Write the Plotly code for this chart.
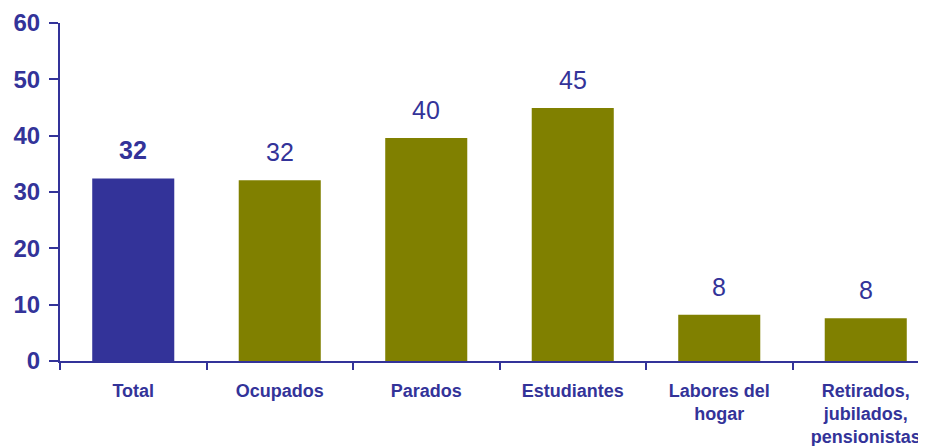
import plotly.graph_objects as go

categories = ["Total", "Ocupados", "Parados", "Estudiantes",
              "Labores del<br>hogar", "Retirados,<br>jubilados,<br>pensionistas"]
values = [32.4, 32.1, 39.6, 44.9, 8.2, 7.6]
y_ticks = [0, 10, 20, 30, 40, 50, 60]

navy = "#333399"
olive = "#808000"
font_family = "Arial, Liberation Sans, sans-serif"

bar_colors = [navy] + [olive] * (len(categories) - 1)

fig = go.Figure()
fig.add_trace(go.Bar(x=categories, y=values, marker_color=bar_colors,
                     marker_line_width=0, width=0.56, hoverinfo="x+y"))

# value labels above bars, first one bold
for i, (c, v) in enumerate(zip(categories, values)):
    txt = "%.0f" % v
    if i == 0:
        txt = "<b>" + txt + "</b>"
    fig.add_annotation(x=c, y=v, text=txt, showarrow=False,
                       yanchor="bottom", yshift=12,
                       font=dict(family=font_family, size=25, color=navy))

# page body has an 8px margin, so the figure is a bit smaller than the window
fig.update_layout(
    width=918, height=438,
    margin=dict(l=52, r=0, t=15, b=85),
    plot_bgcolor="white", paper_bgcolor="white",
    showlegend=False,
)
fig.update_xaxes(
    type="category", automargin=False,
    range=[-0.5, -0.5 + 866 / 146.5],
    showline=True, linecolor=navy, linewidth=2,
    ticks="outside", tickson="boundaries", ticklen=7, tickwidth=2, tickcolor=navy,
    ticklabelstandoff=12,
    tickfont=dict(family=font_family, size=18, color=navy, weight="bold"),
    showgrid=False, zeroline=False,
)
fig.update_yaxes(
    range=[0, 60], tickvals=y_ticks, automargin=False,
    showline=True, linecolor=navy, linewidth=2,
    ticks="outside", ticklen=9, tickwidth=2, tickcolor=navy,
    ticklabelstandoff=4,
    tickfont=dict(family=font_family, size=24, color=navy, weight="bold"),
    showgrid=False, zeroline=False,
)

fig.write_html("out.html")
